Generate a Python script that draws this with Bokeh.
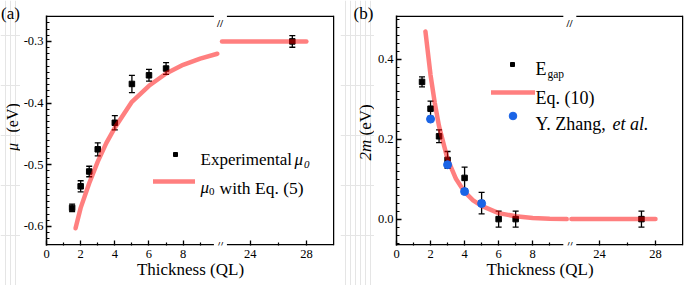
from math import pi
from bokeh.plotting import figure
from bokeh.models import (Range1d, ColumnDataSource, Whisker, TeeHead, Label, Legend, LegendItem,
                          FixedTicker, SingleIntervalTicker, CustomJSTickFormatter)
from bokeh.core.properties import value
from bokeh.layouts import row
from bokeh.embed import file_html
from bokeh.resources import INLINE

# ---------------- data ----------------
thick_a = [1.5, 2, 2.5, 3, 4, 5, 6, 7]
mu_exp = [-0.570, -0.535, -0.511, -0.475, -0.432, -0.369, -0.355, -0.344]
mu_err = [0.006, 0.009, 0.0085, 0.0105, 0.0115, 0.014, 0.0095, 0.0095]
thick_a_far = [27]
mu_exp_far = [-0.300]
mu_err_far = [0.0095]
fit_a_x = [1.7, 2, 2.5, 3, 3.5, 4, 5, 6, 7, 8, 9, 10]
fit_a_y = [-0.603, -0.570, -0.530, -0.495, -0.465, -0.440, -0.398, -0.372, -0.352, -0.338, -0.328, -0.320]
fit_a_far_x = [22, 28]
fit_a_far_y = [-0.300, -0.300]

thick_b = [1.5, 2, 2.5, 3, 4, 5, 6, 7]
egap = [0.343, 0.276, 0.207, 0.148, 0.103, 0.040, 0.0, 0.0]
egap_err = [0.0125, 0.019, 0.016, 0.021, 0.027, 0.027, 0.020, 0.020]
thick_b_far = [27]
egap_far = [0.0]
egap_err_far = [0.020]
zhang_x = [2, 3, 4, 5]
zhang_y = [0.250, 0.136, 0.069, 0.039]
fit_b_x = [1.7, 2, 2.25, 2.5, 3, 3.5, 4, 4.5, 5, 6, 7, 8, 9, 10]
fit_b_y = [0.469, 0.360, 0.290, 0.232, 0.150, 0.100, 0.068, 0.047, 0.033, 0.015, 0.007, 0.003, 0.001, 0.0]
fit_b_far_x = [22, 28]
fit_b_far_y = [0.0, 0.0]

near_ticks = [0, 2, 4, 6, 8]
near_minor = [1, 3, 5, 7, 9]
far_ticks = [24, 28]
far_minor = [26]
ytick_step_a = 0.1
ytick_step_b = 0.2

# ---------------- layout constants ----------------
NEAR_END = 16.86      # near-segment range end (fills the frame width)
FAR_START = 9.52      # far-segment range start
FAR_END = 30.0
GAP_L = 9.8           # frame line interrupted (near units)
GAP_R = 22.35         # frame line resumes (far units)
BRK = 10.16           # position of the // mark (near units)
H = 285
TOP = 15
BOT = 40
FH = H - TOP - BOT    # frame height 230
FB = H - BOT          # frame bottom in page px (245)
RED = "red"
BLUE = "#1a64e6"
FONT = "Liberation Serif"


def far_to_near(v):
    return (v - FAR_START) / (FAR_END - FAR_START) * NEAR_END


def main_panel(width, mbl, mbr, y0, y1, y_interval):
    fw = width - mbl - mbr
    p = figure(width=width, height=H, x_range=Range1d(0, NEAR_END), y_range=Range1d(y0, y1),
               output_backend="svg", toolbar_location=None, title=None, frame_align=False,
               min_border_left=mbl, min_border_right=mbr, min_border_top=TOP, min_border_bottom=BOT,
               background_fill_color="white", border_fill_color="white", outline_line_color=None)
    p.extra_x_ranges = {"far": Range1d(FAR_START, FAR_END)}
    p.xgrid.visible = False
    p.ygrid.visible = False
    # frame lines just inside the frame edges, interrupted at the axis break
    py = (y1 - y0) / FH
    pxf = (FAR_END - FAR_START) / fw
    ytop = y1 - 0.75 * py
    ybot = y0 + 0.75 * py
    xr = FAR_END - 0.75 * pxf
    for yy in (ytop, ybot):
        p.line([0, GAP_L], [yy, yy], line_color="black", line_width=1.5)
        p.line([GAP_R, xr], [yy, yy], line_color="black", line_width=1.5, x_range_name="far")
    p.line([xr, xr], [y0, y1], line_color="black", line_width=1.5, x_range_name="far")

    xa = p.xaxis[0]
    ya = p.yaxis[0]
    xa.ticker = FixedTicker(ticks=near_ticks + [far_to_near(v) for v in far_ticks],
                            minor_ticks=near_minor + [far_to_near(v) for v in far_minor])
    k = (FAR_END - FAR_START) / NEAR_END
    xa.formatter = CustomJSTickFormatter(
        code=f"const v = tick > 10.5 ? {FAR_START} + tick*{k} : tick; return Math.round(v).toString();")
    xa.axis_label = "Thickness (QL)"
    xa.axis_label_text_font = FONT
    xa.axis_label_text_font_size = "17px"
    xa.axis_label_text_font_style = "normal"
    xa.axis_label_text_color = "black"
    xa.axis_label_standoff = -1
    ya.ticker = SingleIntervalTicker(interval=y_interval, num_minor_ticks=10)
    ya.formatter = CustomJSTickFormatter(code="return tick.toFixed(1);")
    for ax in (xa, ya):
        ax.axis_line_width = 1.5
        ax.major_tick_in = 5
        ax.major_tick_out = 0
        ax.minor_tick_in = 3
        ax.minor_tick_out = 0
        ax.major_tick_line_width = 1.3
        ax.minor_tick_line_width = 1.2
        ax.major_tick_line_color = "black"
        ax.minor_tick_line_color = "black"
        ax.major_label_text_font = FONT
        ax.major_label_text_font_size = "12.5px"
        ax.major_label_text_color = "black"
    xa.axis_line_color = None
    ya.axis_line_color = "black"
    xa.major_label_standoff = 4
    ya.major_label_standoff = 3
    # break marks
    p.add_layout(Label(x=BRK, y=1, y_units="screen", text="//", text_font=FONT,
                       text_font_size="11px", text_font_style="bold", text_align="center",
                       text_baseline="alphabetic", text_color="black"))
    p.add_layout(Label(x=BRK, y=FH - 1, y_units="screen", text="//", text_font=FONT,
                       text_font_size="11px", text_font_style="bold", text_align="center",
                       text_baseline="top", text_color="black"))
    return p


def side_panel(width):
    p = figure(width=width, height=H, x_range=Range1d(0, width), y_range=Range1d(0, H),
               output_backend="svg", toolbar_location=None, title=None, frame_align=False,
               x_axis_location=None, y_axis_location=None,
               min_border_left=0, min_border_right=0, min_border_top=0, min_border_bottom=0,
               background_fill_color="white", border_fill_color="white", outline_line_color=None)
    return p


def errbars(p, xs, ys, es, rng="default"):
    src = ColumnDataSource(dict(x=xs, lo=[y - e for y, e in zip(ys, es)], hi=[y + e for y, e in zip(ys, es)]))
    w = Whisker(source=src, base="x", lower="lo", upper="hi", dimension="height",
                line_color="black", line_width=1.3,
                upper_head=TeeHead(size=6, line_color="black", line_width=1.3),
                lower_head=TeeHead(size=6, line_color="black", line_width=1.3),
                x_range_name=rng)
    p.add_layout(w)


def txt(p, x0, yb, sx, sy, s, size=17, style="normal", align="left", baseline="alphabetic", angle=0.0):
    # sx, sy are page pixels; x0 = page x of the frame's left edge, yb = page y of the frame's bottom
    p.add_layout(Label(x=sx - x0, y=yb - sy, x_units="screen", y_units="screen", text=s,
                       text_font=FONT, text_font_size=f"{size}px", text_font_style=style,
                       text_color="black", text_align=align, text_baseline=baseline, angle=angle))


def leg(p, x0, r, cx, cy, gw, gh):
    lg = Legend(items=[LegendItem(label=value(" "), renderers=[r])],
                location=(cx - gw / 2 - x0, FB - cy - gh / 2), orientation="vertical",
                padding=0, margin=0, spacing=0, glyph_width=gw, glyph_height=gh,
                label_height=gh, label_width=1, label_standoff=0, label_text_font_size="1px",
                border_line_color=None, background_fill_alpha=0)
    p.add_layout(lg)


# ---------------- panel (a) ----------------
YA0, YA1 = -0.631, -0.258
LA_W = 20
la = side_panel(LA_W)
txt(la, 0, H, 0.5, 3, "(a)", size=17, baseline="top")
txt(la, 0, H, 11.5, 150.5, "\u03bc", size=16, style="italic", baseline="middle", angle=pi / 2)
txt(la, 0, H, 11.5, 132, "(eV)", size=16, baseline="middle", angle=pi / 2)

FLA = 46
pa = main_panel(340 - LA_W, FLA - LA_W, 6, YA0, YA1, ytick_step_a)
errbars(pa, thick_a, mu_exp, mu_err)
errbars(pa, thick_a_far, mu_exp_far, mu_err_far, "far")
sq_a = pa.scatter(thick_a, mu_exp, marker="square", size=5.5, color="black")
pa.scatter(thick_a_far, mu_exp_far, marker="square", size=5.5, color="black", x_range_name="far")
ln_a = pa.line(fit_a_x, fit_a_y, line_color=RED, line_alpha=0.5, line_width=4.5, line_cap="round")
pa.line(fit_a_far_x, fit_a_far_y, line_color=RED, line_alpha=0.5, line_width=4.5, line_cap="round",
        x_range_name="far")

leg(pa, FLA, sq_a, 175, 154, 10, 10)
leg(pa, FLA, ln_a, 174, 181, 42, 10)
txt(pa, FLA, FB, 200, 159, "Experimental", size=17)
txt(pa, FLA, FB, 294, 159, "\u03bc", size=17, style="italic")
txt(pa, FLA, FB, 303.5, 164, "0", size=11, style="italic")
txt(pa, FLA, FB, 200, 187, "\u03bc", size=17, style="italic")
txt(pa, FLA, FB, 208.5, 190.5, "0", size=11)
txt(pa, FLA, FB, 219, 187, "with Eq. (5)", size=17.5)

# ---------------- panel (b) ----------------
YB0, YB1 = -0.066, 0.509
LB_X = 340
LB_W = 34
lb = side_panel(LB_W)
txt(lb, LB_X, H, 353, 3, "(b)", size=17, baseline="top")
txt(lb, LB_X, H, 365, 160, "2m", size=17, style="italic", baseline="middle", angle=pi / 2)
txt(lb, LB_X, H, 365, 135, "(eV)", size=17, baseline="middle", angle=pi / 2)

FLB = 396
pb = main_panel(684 - LB_X - LB_W, FLB - LB_X - LB_W, 1, YB0, YB1, ytick_step_b)
errbars(pb, thick_b, egap, egap_err)
errbars(pb, thick_b_far, egap_far, egap_err_far, "far")
sq_b = pb.scatter(thick_b, egap, marker="square", size=5.5, color="black")
pb.scatter(thick_b_far, egap_far, marker="square", size=5.5, color="black", x_range_name="far")
ln_b = pb.line(fit_b_x, fit_b_y, line_color=RED, line_alpha=0.5, line_width=4.5, line_cap="round")
pb.line(fit_b_far_x, fit_b_far_y, line_color=RED, line_alpha=0.5, line_width=4.5, line_cap="round",
        x_range_name="far")
bl_b = pb.scatter(zhang_x, zhang_y, marker="circle", size=8, color=BLUE)

leg(pb, FLB, sq_b, 511.7, 64, 10, 10)
leg(pb, FLB, ln_b, 513, 92.3, 44, 10)
leg(pb, FLB, bl_b, 512.3, 115.7, 19, 19)
txt(pb, FLB, FB, 535, 68.3, "E", size=18)
txt(pb, FLB, FB, 547, 73, "gap", size=11.5)
txt(pb, FLB, FB, 535, 97.7, "Eq. (10)", size=18)
txt(pb, FLB, FB, 535, 123.3, "Y. Zhang,", size=18)
txt(pb, FLB, FB, 612, 123.3, "et al.", size=18, style="italic")

layout = row(la, pa, lb, pb)
open("out.html", "w").write(file_html(layout, INLINE))
